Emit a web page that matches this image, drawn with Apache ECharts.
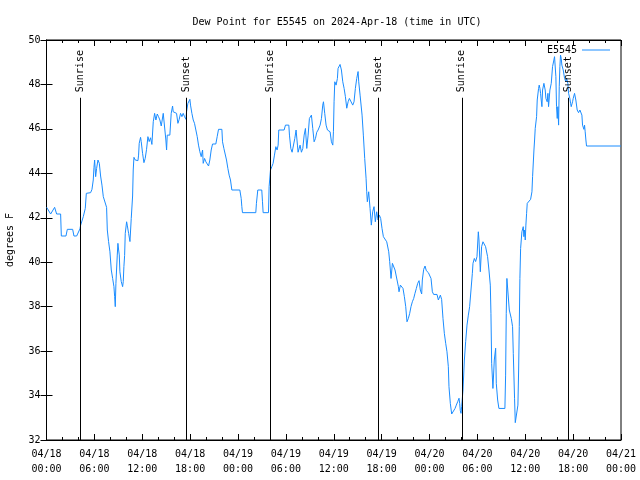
<!DOCTYPE html>
<html>
<head>
<meta charset="utf-8">
<script src="https://cdn.jsdelivr.net/npm/echarts@6/dist/echarts.min.js"></script>
<style>html,body{margin:0;padding:0;background:#fff}#c{width:640px;height:480px}</style>
</head>
<body>
<div id="c"></div>
<script>
// hours since 2024-04-18 00:00 UTC
var hours = [
0.02,0.52,1.02,1.27,1.77,1.86,2.44,2.61,3.28,3.44,3.78,4.19,4.28,4.61,4.86,4.99,5.53,5.7,5.86,5.95,6.03,6.16,6.28,6.45,6.62,6.78,6.95,7.12,7.37,7.53,7.62,7.78,7.95,8.12,8.29,8.45,8.54,8.62,8.7,8.87,8.95,9.04,9.12,9.2,9.37,9.54,9.62,9.7,9.79,9.87,10.04,10.12,10.29,10.46,10.54,10.62,10.79,10.87,10.96,11.12,11.46,11.54,11.62,11.79,11.87,12.04,12.21,12.37,12.54,12.71,12.87,13.04,13.21,13.38,13.55,13.71,13.88,14.04,14.21,14.38,
14.63,14.8,14.96,15.05,15.13,15.46,15.63,15.8,15.88,16.05,16.3,16.47,16.63,16.8,16.97,17.13,17.3,17.47,17.55,17.72,17.88,17.97,18.05,18.22,18.39,18.55,18.72,18.89,19.05,19.22,19.39,19.56,19.64,19.81,19.97,20.14,20.31,20.47,20.64,20.81,21.22,21.39,21.56,21.98,22.06,22.23,22.39,22.56,22.73,22.89,23.06,23.23,24.23,24.4,24.48,24.56,26.23,26.31,26.48,26.98,27.07,27.15,27.82,27.9,28.07,28.24,28.4,28.57,28.74,28.9,
29.03,29.11,29.78,29.95,30.37,30.45,30.62,30.78,30.95,31.12,31.28,31.45,31.53,31.78,31.95,32.12,32.29,32.45,32.62,32.79,32.95,33.2,33.37,33.54,33.71,33.87,34.04,34.29,34.46,34.62,34.71,34.87,35.04,35.21,35.37,35.54,35.71,35.88,35.96,36.04,36.13,36.29,36.46,36.54,36.79,36.96,37.13,37.3,37.46,37.63,37.8,37.96,38.21,38.38,38.54,38.71,38.88,39.05,39.13,39.3,39.55,39.71,39.88,40.05,40.13,40.21,40.38,40.55,40.71,40.88,41.05,41.21,41.38,41.55,41.72,41.88,42.05,42.22,42.47,42.64,42.89,
43.01,43.18,43.35,43.51,43.68,43.93,44.1,44.18,44.35,44.52,44.68,44.85,45.02,45.18,45.35,45.52,45.68,45.85,46.02,46.18,46.35,46.52,46.69,46.85,47.02,47.1,47.27,47.44,47.6,47.86,48.02,48.19,48.36,48.52,48.94,49.11,49.19,49.36,49.52,49.69,49.86,50.03,50.19,50.36,50.44,50.61,50.78,51.03,51.2,51.36,51.53,51.7,51.78,51.86,51.95,52.03,52.2,52.37,52.53,52.7,52.87,53.03,53.2,53.37,53.45,53.62,53.78,53.95,54.12,54.2,54.37,54.53,54.7,54.87,55.03,55.28,55.45,55.62,55.7,55.79,55.95,56.12,56.29,56.37,56.54,56.7,57.45,57.54,57.62,57.7,
57.91,58.0,58.16,58.25,58.41,58.5,58.66,58.75,59.0,59.08,59.17,59.25,59.33,59.42,59.58,59.75,59.83,59.92,60.0,60.08,60.17,60.25,60.42,60.67,60.84,60.92,61.0,61.09,61.17,61.25,61.42,61.5,61.59,61.67,61.75,61.84,61.92,62.0,62.09,62.17,62.34,62.42,62.5,62.59,62.75,62.84,62.92,63.09,63.26,63.42,63.59,63.67,63.76,63.84,63.92,64.01,64.09,64.18,64.26,64.34,64.42,64.51,64.59,64.76,64.93,65.09,65.18,65.26,65.34,65.43,65.59,65.68,65.76,65.93,66.01,66.18,66.26,66.34,66.51,66.68,66.85,66.93,67.1,67.18,67.35,67.43,67.51,67.6,67.68,72
];
var dewPointF = [
42.47,42.17,42.47,42.17,42.17,41.18,41.18,41.48,41.48,41.18,41.18,41.5,41.67,42.05,42.42,43.1,43.13,43.28,43.7,44.27,44.6,43.85,44.22,44.6,44.45,43.88,43.47,42.95,42.87,42.47,41.45,40.93,40.47,39.65,39.27,38.9,38.45,38.0,39.05,40.32,40.85,40.55,40.33,39.57,39.13,38.9,39.13,39.8,40.3,41.3,41.82,41.67,41.3,40.93,41.45,41.97,42.98,44.15,44.72,44.6,44.57,44.82,45.35,45.62,45.43,44.9,44.48,44.67,45.08,45.65,45.43,45.6,45.3,46.32,46.7,46.4,46.67,46.55,46.4,46.13,
46.7,46.7,45.5,45.05,45.72,45.72,46.7,47.03,46.77,46.7,46.7,46.25,46.43,46.7,46.55,46.7,46.55,46.43,46.77,47.15,47.22,47.33,47.07,46.7,46.4,46.25,45.95,45.65,45.27,44.97,44.75,45.05,44.45,44.67,44.52,44.45,44.33,44.6,45.05,45.32,45.32,45.65,45.98,45.98,45.42,45.12,45.05,44.6,44.22,43.92,43.7,43.25,43.25,42.87,42.5,42.23,42.23,42.65,43.25,43.25,42.72,42.23,42.23,43.4,44.15,44.3,44.45,44.82,45.2,45.05,
45.27,45.95,45.95,46.17,46.17,45.72,45.12,44.95,44.97,45.57,45.95,45.27,44.95,45.27,44.95,45.12,45.72,46.02,45.12,45.72,46.47,46.62,46.02,45.42,45.57,45.85,45.95,46.17,46.47,47.07,47.22,46.7,46.17,45.95,45.95,45.87,45.42,45.27,45.87,47.22,48.12,47.97,48.27,48.72,48.9,48.65,48.12,47.82,47.45,46.93,47.22,47.37,47.37,47.07,47.22,47.82,48.27,48.58,48.12,47.52,46.62,45.72,44.67,43.78,43.17,42.72,43.17,42.42,41.67,42.27,42.5,41.82,42.27,41.9,42.12,41.97,41.52,41.15,41.07,40.92,40.47,
40.03,39.27,39.95,39.87,39.65,39.62,38.9,38.67,38.97,39.05,38.82,38.45,38.0,37.32,37.47,37.7,38.0,38.22,38.37,38.6,38.82,39.05,39.17,38.75,38.57,39.2,39.68,39.83,39.62,39.53,39.5,39.27,38.67,38.55,38.55,38.3,38.37,38.52,38.33,37.47,36.8,36.35,35.97,35.3,34.4,33.65,33.17,33.17,33.42,33.57,33.72,33.88,33.65,33.32,33.2,33.5,34.25,35.6,36.42,37.17,37.62,38.0,38.75,39.5,39.95,40.17,40.03,40.25,41.37,41.0,39.57,40.7,40.92,41.0,40.7,40.25,39.65,38.97,37.7,35.45,34.32,35.6,36.13,34.55,33.8,33.42,33.42,34.92,37.7,39.27,
39.23,37.85,37.85,37.47,37.1,35.9,33.88,32.78,32.78,33.57,35.15,37.1,39.27,40.62,41.37,41.6,41.15,41.45,41.0,41.67,42.2,42.65,42.72,42.83,43.17,43.85,43.92,45.05,45.5,46.02,46.55,47.3,47.37,47.82,47.97,47.82,47.6,47.3,47.0,47.75,48.05,48.12,47.75,47.37,47.22,47.6,47.0,47.75,48.05,48.8,49.1,49.25,49.32,48.35,47.0,46.47,47.0,46.17,47.9,48.8,49.32,49.17,48.87,48.65,48.27,48.12,48.27,48.35,48.05,47.6,47.37,47.15,47.0,47.22,47.37,47.6,47.6,47.3,46.85,46.73,46.85,46.92,46.62,46.17,45.98,46.17,45.87,45.5,45.23,45.23
];
var sunEventHours = [4.19, 17.5, 28.1, 41.55, 52.05, 65.45];
var sunEventLabels = ['Sunrise', 'Sunset', 'Sunrise', 'Sunset', 'Sunrise', 'Sunset'];
var yTicks = {min: 32, max: 50, step: 2};
var xTicks = {min: 0, max: 72, step: 6};

var FONT = 'DejaVu Sans Mono';
var LINE_COLOR = '#1a8cff';
function pad(n){return (n<10?'0':'')+n;}
function fmtX(h){
  var d = 18 + Math.floor(h/24);
  var hh = h % 24;
  return '04/' + pad(d) + '\n' + pad(hh) + ':00';
}
var pts = hours.map(function(h,i){return [h, dewPointF[i]];});

var chart = echarts.init(document.getElementById('c'), null, {renderer:'canvas'});
chart.setOption({
  animation: false,
  backgroundColor: '#fff',
  title: {
    text: 'Dew Point for E5545 on 2024-Apr-18 (time in UTC)',
    left: 332, top: 12, textAlign: 'center',
    textStyle: {fontFamily: FONT, fontSize: 10, fontWeight: 'normal', color: '#000'}
  },
  legend: {
    right: 25, top: 40, align: 'right', itemWidth: 28, itemHeight: 1, icon: 'rect', itemGap: 7,
    textStyle: {fontFamily: FONT, fontSize: 10, color: '#000'},
    data: [{name: 'E5545', icon: 'rect', itemStyle: {color: LINE_COLOR}}]
  },
  grid: {left: 46.5, right: 19, top: 40, bottom: 40, show: true, borderColor: '#000', borderWidth: 1,
         containLabel: false, outerBoundsMode: 'none'},
  xAxis: [{
    type: 'value', min: xTicks.min, max: xTicks.max, interval: xTicks.step,
    axisLine: {show: true, lineStyle: {color: '#000'}},
    axisTick: {show: true, inside: true, length: 6, lineStyle: {color: '#000'}},
    minorTick: {show: true, splitNumber: 3, length: 3, lineStyle: {color: '#000'}},
    splitLine: {show: false},
    axisLabel: {formatter: fmtX, fontFamily: FONT, fontSize: 10, color: '#000', margin: 7, lineHeight: 15}
  }, {
    type: 'value', position: 'top', min: xTicks.min, max: xTicks.max, interval: xTicks.step,
    axisLine: {show: true, lineStyle: {color: '#000'}},
    axisTick: {show: true, inside: true, length: 6, lineStyle: {color: '#000'}},
    minorTick: {show: true, splitNumber: 3, length: 3, lineStyle: {color: '#000'}},
    splitLine: {show: false}, axisLabel: {show: false}
  }],
  yAxis: [{
    type: 'value', min: yTicks.min, max: yTicks.max, interval: yTicks.step,
    name: 'degrees F', nameLocation: 'middle', nameGap: 31,
    nameTextStyle: {fontFamily: FONT, fontSize: 10, color: '#000'},
    axisLine: {show: true, lineStyle: {color: '#000'}},
    axisTick: {show: true, inside: true, length: 6, lineStyle: {color: '#000'}},
    splitLine: {show: false},
    axisLabel: {fontFamily: FONT, fontSize: 10, color: '#000', margin: 6}
  }, {
    type: 'value', position: 'right', min: yTicks.min, max: yTicks.max, interval: yTicks.step,
    axisLine: {show: true, lineStyle: {color: '#000'}},
    axisTick: {show: true, inside: true, length: 6, lineStyle: {color: '#000'}},
    splitLine: {show: false}, axisLabel: {show: false}
  }],
  series: [{
    name: 'E5545', type: 'line', data: pts, showSymbol: false, symbol: 'none',
    xAxisIndex: 0, yAxisIndex: 0,
    lineStyle: {color: LINE_COLOR, width: 1}, itemStyle: {color: LINE_COLOR},
    sampling: null, z: 3,
    markLine: {
      silent: true, symbol: ['none', 'none'], animation: false,
      lineStyle: {color: '#000', width: 1, type: 'solid'},
      label: {show: false},
      data: sunEventHours.map(function(h){return [{coord: [h, 32]}, {coord: [h, 47.4]}];})
    },
    markPoint: {
      silent: true, symbol: 'circle', symbolSize: 0, animation: false,
      label: {
        show: true, position: [0, 0], rotate: 90, align: 'left', verticalAlign: 'middle',
        fontFamily: FONT, fontSize: 10, color: '#000',
        formatter: function(p){return p.name;}
      },
      data: sunEventHours.map(function(h, i){return {name: sunEventLabels[i], coord: [h, 47.65]};})
    }
  }]
});
</script>
</body>
</html>
